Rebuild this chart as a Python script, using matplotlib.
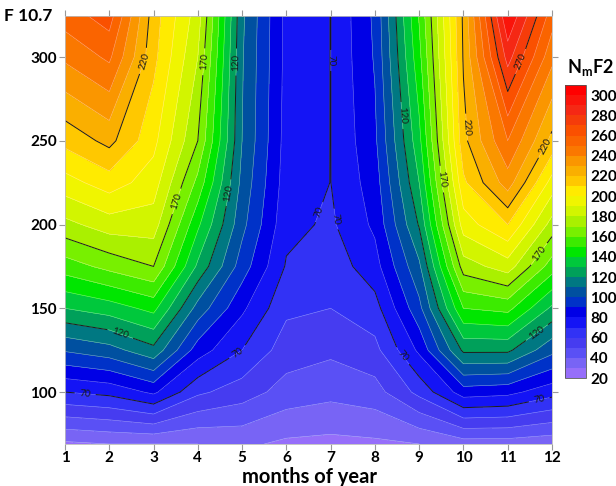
import numpy as np
import matplotlib
matplotlib.use('Agg')
import matplotlib.pyplot as plt

plt.rcParams['font.family'] = ['Lato', 'DejaVu Sans']
plt.rcParams['mathtext.fontset'] = 'custom'
plt.rcParams['mathtext.bf'] = 'Lato:bold'
plt.rcParams['mathtext.rm'] = 'Lato:bold'

# dados: meses x F10.7 -> NmF2
months = [1, 2, 3, 4, 5, 6, 7, 8, 9, 10, 11, 12]
f107 = [69, 100, 125, 150, 175, 200, 225, 250, 300, 325]
nmf2 = [
    [28, 30, 30, 30, 32, 28, 27, 28, 30, 35, 35, 33],
    [70, 73, 82, 62, 55, 46, 43, 46, 63, 85, 83, 74],
    [101, 106, 117, 85, 70, 55, 52, 57, 82, 122, 122, 103],
    [130, 135, 143, 106, 82, 62, 60, 66, 97, 150, 153, 128],
    [155, 163, 170, 128, 95, 69, 64, 76, 108, 175, 185, 155],
    [177, 185, 185, 142, 103, 73, 68.3, 82, 121, 195, 210, 176],
    [196, 205, 195, 157, 107, 75, 69.9, 85, 130, 208, 235, 196],
    [213, 223, 203, 170, 110, 76, 69.9, 88, 137, 217, 250, 217],
    [242, 252, 213, 180, 111, 77, 69.9, 91, 147, 221, 284, 243],
    [255, 265, 215, 185, 112, 77, 69.9, 92, 151, 222, 300, 255],
]
niveis = list(range(20, 320, 10))
niveis_pretos = [70, 120, 170, 220, 270]

# cores das faixas (de 20-30 ate 300-310)
cores = ['#966efa', '#7864f5', '#5a50f5', '#463cf0', '#3232f5', '#1414f5',
         '#0000e6', '#0032c8', '#0050a0', '#007882', '#00a05a', '#00c83c',
         '#00e600', '#3ceb00', '#78f000', '#aaf000', '#d2f500', '#f0f500',
         '#ffeb00', '#ffc800', '#faaf00', '#fa9600', '#fa7800', '#fa6400',
         '#fa5000', '#f53c0a', '#f52814', '#fa140a', '#ff0000']

fig = plt.figure(figsize=(6.16, 4.86), dpi=100)
ax = fig.add_axes([0.1055, 0.0864, 0.7906, 0.8807])

cf = ax.contourf(months, f107, nmf2, levels=niveis, colors=cores)
ax.contour(months, f107, nmf2, levels=niveis, colors='white', linewidths=0.4, alpha=0.5)
cs = ax.contour(months, f107, nmf2, levels=niveis_pretos, colors='#1a1a1a', linewidths=0.7)

# posicoes aproximadas dos rotulos como na figura
pos = [(2.85, 297), (4.23, 297), (3.5, 214), (4.9, 297), (4.5, 220), (2.2, 131),
       (7.0, 298), (6.78, 207), (7.05, 203), (1.45, 97), (4.9, 124), (8.5, 119),
       (11.7, 97), (8.55, 265), (11.7, 134), (9.47, 227), (11.73, 182),
       (9.97, 258), (11.84, 247), (11.32, 297)]
ax.clabel(cs, fmt='%d', fontsize=7, inline=True, manual=pos)

ax.set_xlim(1, 12)
ax.set_ylim(69, 324.5)
ax.set_xticks(months)
ax.set_yticks([100, 150, 200, 250, 300])
ax.tick_params(direction='out', length=4, color='#999999', labelsize=11,
               top=True, right=True, labeltop=False, labelright=False, pad=2)
ax.tick_params(axis='x', pad=1)
for lab in ax.get_xticklabels() + ax.get_yticklabels():
    lab.set_fontweight('bold')
for s in ax.spines.values():
    s.set_color('#bbbbbb')
    s.set_linewidth(0.6)

fig.text(0.0065, 0.968, 'F 10.7', fontsize=12.5, fontweight='bold', va='center', ha='left')
fig.text(0.503, 0.007, 'months of year', fontsize=14.5, fontweight='bold', ha='center', va='baseline')
fig.text(0.958, 0.862, r'$\mathbf{N_{m}F2}$', fontsize=13, ha='center', va='center')

cax = fig.add_axes([0.917, 0.222, 0.034, 0.603])
cb = fig.colorbar(cf, cax=cax, ticks=list(range(20, 301, 20)))
cb.outline.set_linewidth(0.6)
cb.outline.set_edgecolor('#555555')
cax.tick_params(length=0, labelsize=11, pad=3)
for lab in cax.get_yticklabels():
    lab.set_fontweight('bold')

plt.savefig('out.png', dpi=100)
